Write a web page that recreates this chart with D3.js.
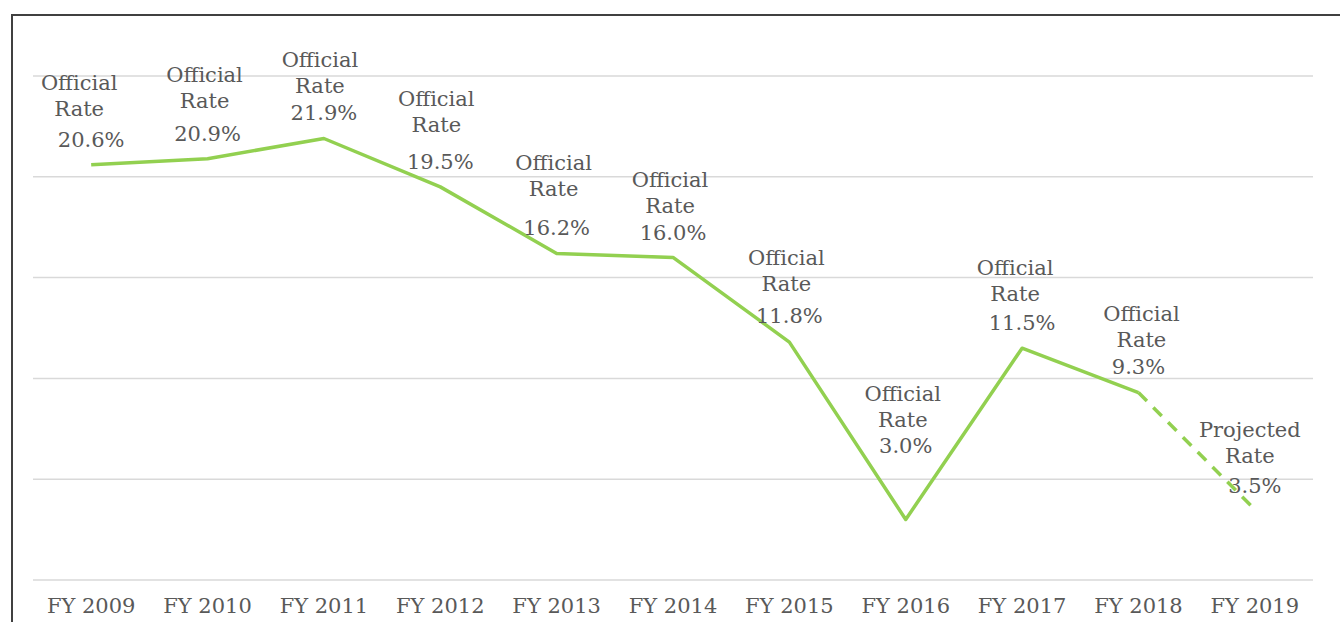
<!DOCTYPE html>
<html>
<head>
<meta charset="utf-8">
<script src="https://cdn.jsdelivr.net/npm/d3@7"></script>
<style>
	body { margin: 0; background: #fff; }
	text { font-family: "DejaVu Serif", "Liberation Serif", serif; fill: #595959; }
</style>
</head>
<body>
<div id="chart"></div>
<script>
// data
years = ['FY 2009', 'FY 2010', 'FY 2011', 'FY 2012', 'FY 2013', 'FY 2014',
	'FY 2015', 'FY 2016', 'FY 2017', 'FY 2018', 'FY 2019'];
rates = [20.6, 20.9, 21.9, 19.5, 16.2, 16.0, 11.8, 3.0, 11.5, 9.3, 3.5];
rate_kind = ['Official', 'Official', 'Official', 'Official', 'Official', 'Official',
	'Official', 'Official', 'Official', 'Official', 'Projected'];
y_ticks = [0, 5, 10, 15, 20, 25];

// label nudges (pixels)
label_lift = [25, 25, 25, 25, 25, 24, 26, 74, 25, 26, 23];
label_gap = [31, 33, 27, 37, 39, 27, 32, 26, 29, 27, 30];
label_shift = [-12, -3, -4, -4, -3, -3, -3, -3, -7, 3, -5];

// chart settings
chart_width = 1340;
chart_height = 622;
line_color = '#92d050';

var svg = d3.select('#chart')
	.append('svg')
	.attr('width', chart_width)
	.attr('height', chart_height);

// outer frame
svg.append('rect')
	.attr('x', 12).attr('y', 15)
	.attr('width', 1400).attr('height', 700)
	.attr('fill', 'none')
	.attr('stroke', '#404040')
	.attr('stroke-width', 2);

// scales
x_scale = d3.scaleBand()
	.domain(years)
	.range([33, 1313]);

y_scale = d3.scaleLinear()
	.domain([0, 25])
	.range([580, 76]);

var cx = (d) => x_scale(d) + x_scale.bandwidth() / 2;

// gridlines
svg.selectAll('.grid')
	.data(y_ticks)
	.enter()
	.append('line')
	.attr('x1', 33).attr('x2', 1313)
	.attr('y1', (d) => y_scale(d)).attr('y2', (d) => y_scale(d))
	.attr('stroke', '#d9d9d9')
	.attr('stroke-width', 1.5);

// x axis labels
svg.selectAll('.xlab')
	.data(years)
	.enter()
	.append('text')
	.attr('x', (d) => cx(d))
	.attr('y', 613)
	.attr('text-anchor', 'middle')
	.style('font-size', '21px')
	.text((d) => d);

// line
points = years.map((d, i) => [cx(d), y_scale(rates[i])]);
var line = d3.line();

svg.append('path')
	.attr('d', line(points.slice(0, 10)))
	.attr('fill', 'none')
	.attr('stroke', line_color)
	.attr('stroke-width', 3.5)
	.attr('stroke-linejoin', 'round');

svg.append('path')
	.attr('d', line(points.slice(9)))
	.attr('fill', 'none')
	.attr('stroke', line_color)
	.attr('stroke-width', 3.5)
	.attr('stroke-dasharray', '12,9');

// data labels
var labels = svg.selectAll('.lab')
	.data(years)
	.enter()
	.append('g')
	.attr('transform', (d, i) => `translate(${cx(d)},${y_scale(rates[i]) - label_lift[i]})`);

labels.append('text')
	.attr('x', 0).attr('y', 7)
	.attr('text-anchor', 'middle')
	.style('font-size', '21px')
	.text((d, i) => rates[i].toFixed(1) + '%');

labels.append('text')
	.attr('x', (d, i) => label_shift[i]).attr('y', (d, i) => 7 - label_gap[i])
	.attr('text-anchor', 'middle')
	.style('font-size', '21px')
	.text('Rate');

labels.append('text')
	.attr('x', (d, i) => label_shift[i]).attr('y', (d, i) => 7 - label_gap[i] - 26)
	.attr('text-anchor', 'middle')
	.style('font-size', '21px')
	.text((d, i) => rate_kind[i]);
</script>
</body>
</html>
